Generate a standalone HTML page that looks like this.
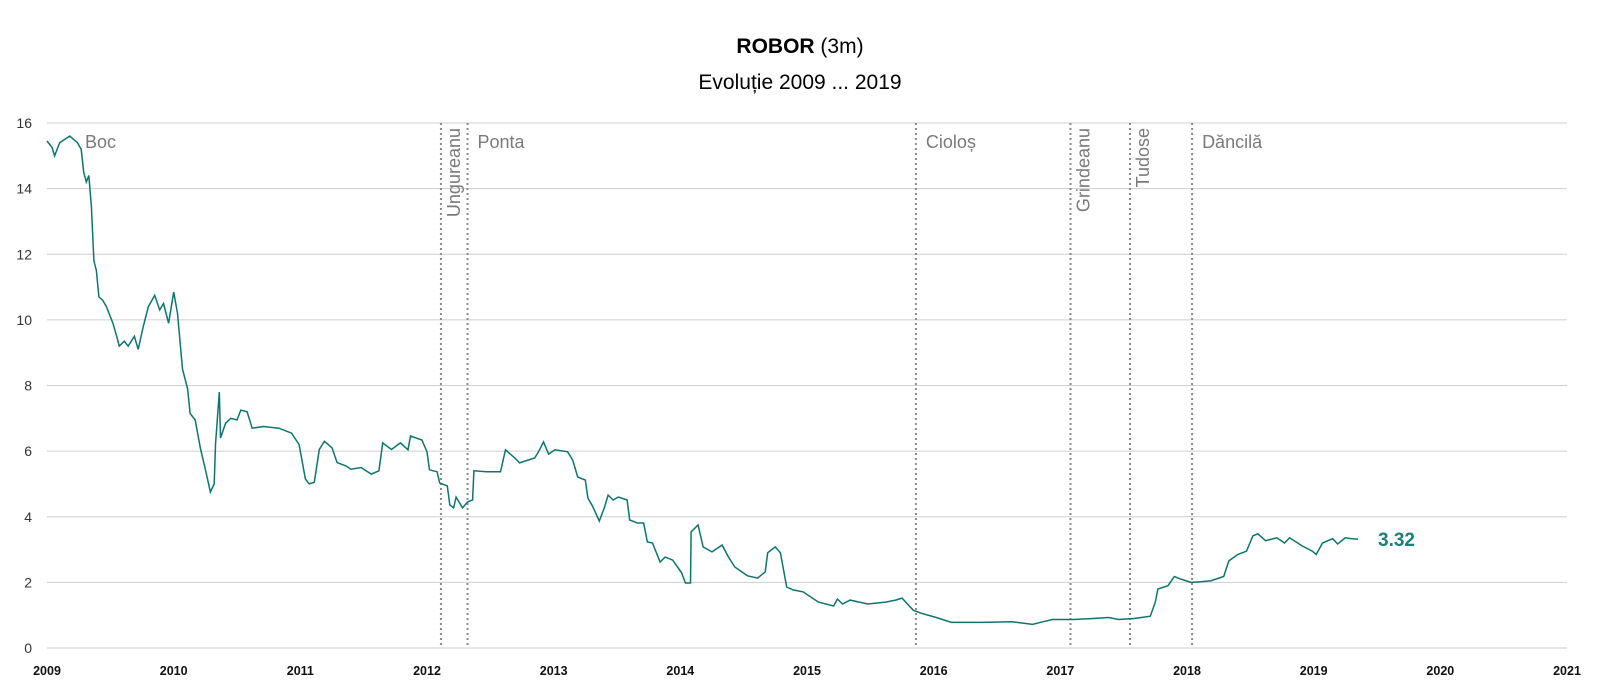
<!DOCTYPE html>
<html><head><meta charset="utf-8"><style>
html,body{margin:0;padding:0;background:#fff;width:1600px;height:699px;overflow:hidden}
svg text{font-family:"Liberation Sans",sans-serif}
</style></head><body>
<svg id="chart" width="1600" height="699" xmlns="http://www.w3.org/2000/svg">
<text x="800" y="53" text-anchor="middle" font-size="21" fill="#000"><tspan font-weight="bold">ROBOR</tspan> (3m)</text>
<text x="800" y="89" text-anchor="middle" font-size="21" fill="#000">Evoluție 2009 ... 2019</text>
<g id="grid"></g>
<g id="yt"></g>
<g id="xt"></g>
<g id="ev"></g>
<path id="line" fill="none" stroke="#0e7470" stroke-width="1.5"/>
<text id="lastlbl" font-size="19" font-weight="bold" fill="#1a7f7c"></text>
</svg>
<script>
const yTicks=[0,2,4,6,8,10,12,14,16];
const xTicks=[2009,2010,2011,2012,2013,2014,2015,2016,2017,2018,2019,2020,2021];
const govNames=["Boc","Ungureanu","Ponta","Cioloș","Grindeanu","Tudose","Dăncilă"];
const govStarts=[2009.0,2012.11,2012.32,2015.86,2017.08,2017.55,2018.04];
const govVertical=[false,true,false,false,true,true,false];
const years=[2009.00,2009.04,2009.06,2009.10,2009.14,2009.18,2009.24,2009.27,2009.29,2009.31,2009.33,2009.35,2009.37,2009.39,2009.41,2009.44,2009.47,2009.52,2009.55,2009.57,2009.61,2009.64,2009.69,2009.72,2009.76,2009.80,2009.85,2009.89,2009.92,2009.96,2010.00,2010.03,2010.07,2010.11,2010.13,2010.17,2010.21,2010.25,2010.29,2010.32,2010.33,2010.36,2010.37,2010.41,2010.45,2010.50,2010.53,2010.58,2010.62,2010.71,2010.83,2010.93,2010.99,2011.04,2011.07,2011.11,2011.15,2011.19,2011.25,2011.29,2011.36,2011.40,2011.48,2011.56,2011.62,2011.65,2011.72,2011.79,2011.85,2011.87,2011.96,2012.00,2012.02,2012.08,2012.10,2012.16,2012.18,2012.21,2012.23,2012.28,2012.32,2012.36,2012.37,2012.47,2012.58,2012.62,2012.71,2012.73,2012.85,2012.88,2012.92,2012.96,2013.01,2013.11,2013.15,2013.19,2013.25,2013.27,2013.31,2013.36,2013.40,2013.43,2013.47,2013.51,2013.58,2013.60,2013.66,2013.71,2013.74,2013.78,2013.84,2013.88,2013.94,2014.01,2014.04,2014.08,2014.085,2014.14,2014.18,2014.25,2014.33,2014.38,2014.43,2014.53,2014.61,2014.67,2014.69,2014.75,2014.79,2014.84,2014.89,2014.97,2015.09,2015.21,2015.24,2015.28,2015.34,2015.48,2015.62,2015.70,2015.75,2015.84,2015.90,2016.02,2016.14,2016.38,2016.62,2016.78,2016.86,2016.94,2017.10,2017.26,2017.38,2017.46,2017.58,2017.71,2017.75,2017.77,2017.85,2017.90,2017.95,2018.03,2018.11,2018.19,2018.29,2018.33,2018.40,2018.47,2018.52,2018.56,2018.62,2018.71,2018.77,2018.81,2018.91,2018.99,2019.02,2019.07,2019.15,2019.19,2019.25,2019.30,2019.35];
const values=[15.45,15.25,15.0,15.4,15.5,15.6,15.4,15.2,14.5,14.2,14.4,13.5,11.8,11.5,10.7,10.6,10.4,9.9,9.5,9.2,9.35,9.2,9.5,9.1,9.8,10.4,10.75,10.3,10.5,9.9,10.85,10.2,8.5,7.9,7.15,6.95,6.1,5.45,4.75,5.0,6.2,7.8,6.4,6.85,7.0,6.95,7.25,7.2,6.7,6.75,6.7,6.55,6.2,5.15,5.0,5.05,6.05,6.3,6.1,5.65,5.55,5.45,5.5,5.3,5.4,6.25,6.05,6.25,6.04,6.46,6.34,5.98,5.43,5.37,5.03,4.94,4.36,4.27,4.6,4.27,4.45,4.51,5.40,5.37,5.37,6.04,5.73,5.64,5.79,5.98,6.28,5.91,6.04,5.98,5.73,5.21,5.12,4.57,4.30,3.87,4.27,4.66,4.51,4.60,4.51,3.90,3.81,3.81,3.23,3.20,2.62,2.77,2.68,2.29,1.98,1.98,3.54,3.75,3.08,2.93,3.14,2.77,2.47,2.20,2.13,2.32,2.90,3.08,2.90,1.86,1.77,1.71,1.40,1.28,1.49,1.34,1.46,1.34,1.40,1.46,1.52,1.15,1.06,0.93,0.78,0.78,0.80,0.72,0.80,0.87,0.87,0.90,0.93,0.87,0.90,0.97,1.40,1.80,1.90,2.18,2.10,2.00,2.02,2.05,2.18,2.65,2.85,2.95,3.42,3.48,3.27,3.36,3.20,3.36,3.11,2.95,2.85,3.20,3.33,3.17,3.36,3.33,3.32];
const lastLabel="3.32";
const X0=47,X1=1567,Y0=648,Y1=123;
const xs=y=>X0+(y-2009)/(2021-2009)*(X1-X0);
const ys=v=>Y0-(v/16)*(Y0-Y1);
const NS="http://www.w3.org/2000/svg";
function mk(t,a){const e=document.createElementNS(NS,t);for(const k in a)e.setAttribute(k,a[k]);return e;}
const grid=document.getElementById('grid'),yt=document.getElementById('yt'),xt=document.getElementById('xt'),ev=document.getElementById('ev');
yTicks.forEach(v=>{
 const l=mk('line',{x1:X0,x2:X1,y1:ys(v),y2:ys(v),stroke:'#cfcfcf','stroke-width':1});
 
 
 grid.appendChild(l);
 const t=mk('text',{x:32,y:ys(v)+5,'text-anchor':'end','font-size':14,fill:'#333'});
 t.textContent=v;
 
 
 yt.appendChild(t);
});
xTicks.forEach(y=>{
 const t=mk('text',{x:xs(y),y:675,'text-anchor':'middle','font-size':12.5,'font-weight':'bold',fill:'#111'});
 t.textContent=y;
 
 
 xt.appendChild(t);
});
govNames.forEach((n,i)=>{
 const x=xs(govStarts[i]);
 if(i>0){const l=mk('line',{x1:x,x2:x,y1:Y1,y2:Y0,stroke:'#8a8a8a','stroke-width':2,'stroke-dasharray':'2 3'});
 
 
 ev.appendChild(l);}
 let t;
 if(govVertical[i]){t=mk('text',{x:0,y:0,'text-anchor':'end','font-size':18,fill:'#7a7a7a',transform:'translate('+(x+19)+','+(Y1+5)+') rotate(-90)'});}
 else{t=mk('text',{x:(i==0?x+38:x+10),y:Y1+25,'font-size':18,fill:'#7a7a7a'});}
 t.textContent=n;
 
 
 ev.appendChild(t);
});
let d='';years.forEach((y,i)=>{d+=(i?'L':'M')+xs(y).toFixed(1)+','+ys(values[i]).toFixed(1);});
document.getElementById('line').setAttribute('d',d);
const ll=document.getElementById('lastlbl');
ll.setAttribute('x',xs(years[years.length-1])+20);
ll.setAttribute('y',ys(values[values.length-1])+7);
ll.textContent=lastLabel;
</script>
</body></html>
